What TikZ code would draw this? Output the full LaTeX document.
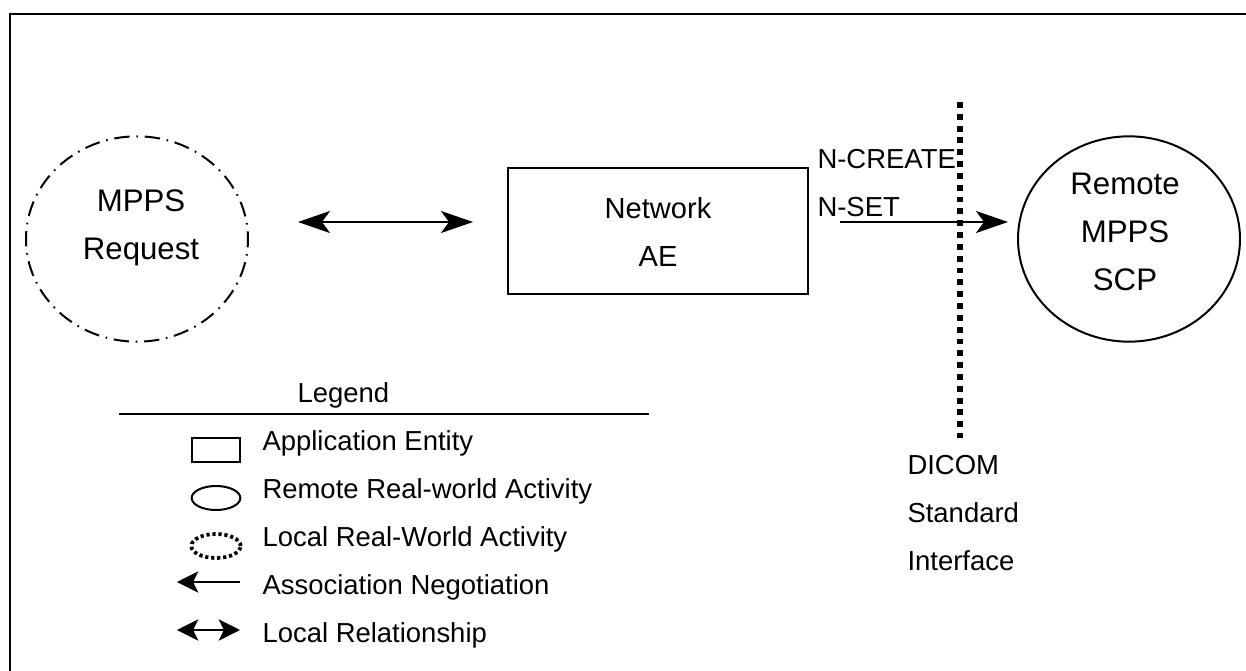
\documentclass[tikz,border=0pt]{standalone}
\usepackage{fontspec}
\setmainfont{Liberation Sans}
\usetikzlibrary{positioning,arrows.meta,shapes.geometric}
\tikzset{every picture/.style={line width=0.75pt}}
\tikzset{
  bigtext/.style={inner sep=0pt,font=\fontsize{23.4}{36}\selectfont,align=center},
  midtext/.style={inner sep=0pt,font=\fontsize{21.8}{36}\selectfont,align=center},
  smalltext/.style={inner sep=0pt,font=\fontsize{20.6}{25}\selectfont,anchor=base west},
  mainhead/.tip={Stealth[length=24pt,width=16.5pt,inset=6pt]},
  keyhead/.tip={Stealth[length=16pt,width=16pt,inset=4pt]},
  shapeline/.style={draw,inner sep=0pt,line width=1.5pt},
  connector/.style={line width=1.5pt}
}

\begin{document}
\begin{tikzpicture}[x=0.75pt,y=0.75pt,yscale=-1,xscale=1]
\useasboundingbox (0,0) rectangle (1246,671);

%Frame
\draw [line width=2.2pt] (10,671) -- (10,14) -- (1246,14);

%Activities
\node (request) at (137,239) [shapeline,ellipse,minimum width=166.5pt,minimum height=154pt,dash pattern=on 11.5pt off 5.1pt on 1.2pt off 5.07pt,dash phase=5.75pt] {};
\node (network) at (658,231) [shapeline,rectangle,minimum width=225pt,minimum height=94pt] {};
\node (remote) at (1129,239) [shapeline,ellipse,minimum width=166.5pt,minimum height=154pt] {};

% Text Node
\node at (141,228) [bigtext] {MPPS\\Request};
\node at (658,232) [midtext] {Network\\AE};
\node at (1125,232) [bigtext] {Remote\\MPPS\\SCP};
\node (create) at (817,168) [smalltext] {N-CREATE};
\node (nset) at (817,216) [smalltext] {N-SET};
\node (dicom) at (907,474) [smalltext] {DICOM};
\node (standard) at (907,522) [smalltext] {Standard};
\node (interface) at (907,570) [smalltext] {Interface};

%Interface line
\coordinate (ifacetop) at (960,102);
\coordinate (ifacebot) at (960,438);
\draw [line width=4.2pt,dash pattern=on 4.4pt off 4.47pt] (ifacetop) -- (ifacebot);

%Arrows
\coordinate (relleft) at (298,222);
\coordinate (relright) at (473,222);
\draw [mainhead-mainhead,connector] (relleft) -- (relright);
\coordinate (setstart) at (840,222);
\coordinate (setend) at (1008,222);
\draw [-mainhead,connector] (setstart) -- (setend);

%Legend
\node (legend) at (297,402) [smalltext] {Legend};
\coordinate (ruleleft) at (119,414);
\coordinate (ruleright) at (649,414);
\draw [connector] (ruleleft) -- (ruleright);
\node (keybox) at (216,450) [shapeline,rectangle,minimum width=36pt,minimum height=18pt] {};
\node (keyremote) at (216,498) [shapeline,ellipse,minimum width=36.5pt,minimum height=18pt] {};
\node (keylocal) at (216,546) [shapeline,ellipse,minimum width=37pt,minimum height=18pt,line width=2.8pt,dash pattern=on 2.4pt off 2.1pt] {};
\coordinate (assocright) at (240,582);
\coordinate (assocleft) at (177,582);
\draw [-keyhead,connector] (assocright) -- (assocleft);
\coordinate (localleft) at (177,630);
\coordinate (localright) at (240,630);
\draw [keyhead-keyhead,connector] (localleft) -- (localright);
\node (appentity) at (262,450) [smalltext] {Application Entity};
\node (remoteact) at (262,498) [smalltext] {Remote Real-world Activity};
\node (localact) at (262,546) [smalltext] {Local Real-World Activity};
\node (assoc) at (262,594) [smalltext] {Association Negotiation};
\node (localrel) at (262,642) [smalltext] {Local Relationship};

\end{tikzpicture}
\end{document}
